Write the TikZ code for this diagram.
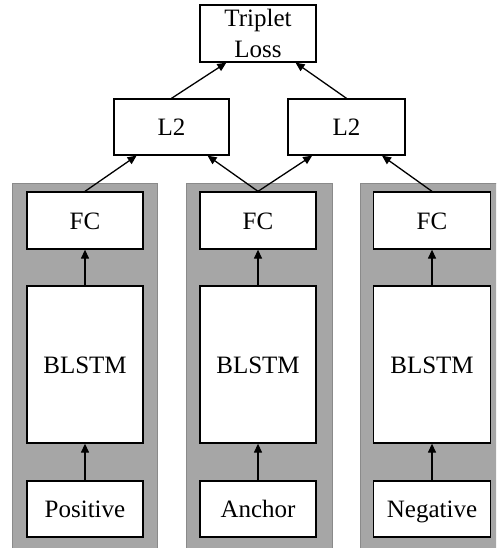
\documentclass[tikz,border=0pt]{standalone}
\usepackage{fontspec}
\setmainfont{Liberation Serif}
\usetikzlibrary{arrows.meta,calc}
\definecolor{panelfill}{HTML}{A6A6A6}
\definecolor{panelline}{HTML}{8A8A8A}
\begin{document}
\begin{tikzpicture}[x=1pt,y=-1pt,
  box/.style={draw=black,fill=white,line width=1.3pt,inner sep=0pt,
    font=\fontsize{25}{30}\selectfont},
  fixed/.style={text height=17.5pt,text depth=0pt},
  panel/.style={fill=panelfill,draw=panelline,line width=1pt},
  conn/.style={line width=1.3pt,-{Triangle[length=9pt,width=8pt]}}]
\useasboundingbox (0,0) rectangle (496,548);
\begin{scope}
\clip (0,0) rectangle (496,548);
\draw[panel] (12,183) rectangle (157,560);
\draw[panel] (186,183) rectangle (332,560);
\draw[panel] (360,183) rectangle (510,560);
\end{scope}
% top
\node[box,align=center,minimum width=116pt,minimum height=57pt] (tl) at (258,33.5) {Triplet\\[1pt]Loss};
\node[box,fixed,minimum width=115pt,minimum height=56pt] (l2a) at (171.5,127) {L2};
\node[box,fixed,minimum width=117pt,minimum height=56pt] (l2b) at (346.5,127) {L2};
% columns
\foreach \n/\x/\w/\t in {1/85/116/Positive,2/258/116/Anchor,3/432/117/Negative}{
  \node[box,fixed,minimum width=\w pt,minimum height=57pt] (fc\n) at (\x,220.5) {FC};
  \node[box,fixed,minimum width=\w pt,minimum height=157pt] (bl\n) at (\x,364.5) {BLSTM};
  \node[box,fixed,minimum width=\w pt,minimum height=56pt] (in\n) at (\x,509) {\t};
  \draw[conn] (in\n.north) -- (bl\n.south);
  \draw[conn] (bl\n.north) -- (fc\n.south);
}
\draw[conn] (fc1.north) -- ($(l2a.south west)!0.2!(l2a.south east)$);
\draw[conn] (fc2.north) -- ($(l2a.south west)!0.81!(l2a.south east)$);
\draw[conn] (fc2.north) -- ($(l2b.south west)!0.21!(l2b.south east)$);
\draw[conn] (fc3.north) -- ($(l2b.south west)!0.8!(l2b.south east)$);
\draw[conn] (l2a.north) -- ($(tl.south west)!0.23!(tl.south east)$);
\draw[conn] (l2b.north) -- ($(tl.south west)!0.82!(tl.south east)$);
\end{tikzpicture}
\end{document}
